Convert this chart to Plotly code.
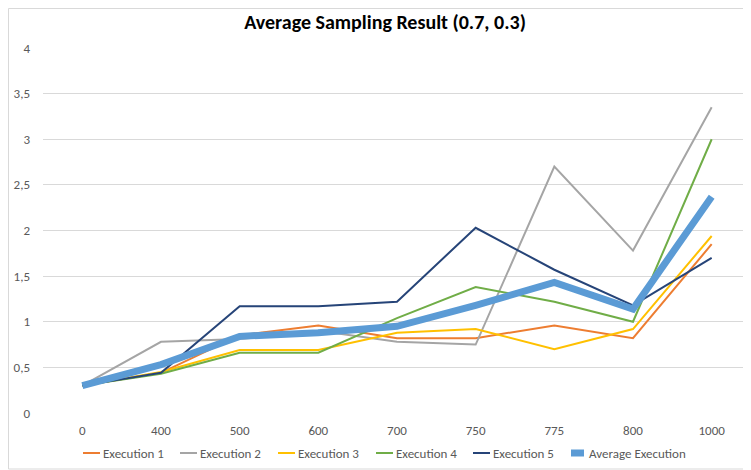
import plotly.graph_objects as go

# sample sizes (categories on the x axis)
sizes = ["0", "400", "500", "600", "700", "750", "775", "800", "1000"]

execution_1 = [0.30, 0.44, 0.85, 0.96, 0.82, 0.82, 0.96, 0.82, 1.85]
execution_2 = [0.30, 0.78, 0.81, 0.90, 0.78, 0.75, 2.70, 1.78, 3.35]
execution_3 = [0.30, 0.45, 0.69, 0.69, 0.88, 0.92, 0.70, 0.92, 1.94]
execution_4 = [0.30, 0.43, 0.66, 0.66, 1.04, 1.38, 1.22, 1.00, 3.00]
execution_5 = [0.30, 0.44, 1.17, 1.17, 1.22, 2.03, 1.57, 1.18, 1.70]
average_execution = [0.30, 0.53, 0.84, 0.88, 0.95, 1.18, 1.43, 1.14, 2.37]

series = [
    ("Execution 1", execution_1, "#ED7D31", 2),
    ("Execution 2", execution_2, "#A5A5A5", 2),
    ("Execution 3", execution_3, "#FFC000", 2),
    ("Execution 4", execution_4, "#70AD47", 2),
    ("Execution 5", execution_5, "#264478", 2),
    ("Average Execution", average_execution, "#5B9BD5", 7),
]

# where each legend label starts (page px)
legend_text_x = [102, 199, 297, 395, 492, 588]
LEGEND_Y = 453

FONT = "Carlito, Lato, 'Open Sans', sans-serif"

# the page puts the figure 8px in from the top-left corner
W, H = 743, 462
L, R, T, B = 35, 0, 40, 57
plot_w = W - L - R
plot_h = H - T - B


def px_x(page_x):
    return (page_x - 8 - L) / plot_w


def px_y(page_y):
    return (T + plot_h - (page_y - 8)) / plot_h


fig = go.Figure()

shapes = [dict(
    type="rect",
    xref="paper",
    yref="paper",
    x0=px_x(8.5),
    x1=1.02,
    y0=px_y(469),
    y1=px_y(8.5),
    line=dict(color="#D9D9D9", width=1),
    fillcolor="rgba(0,0,0,0)",
    layer="below",
)]
annotations = []

for i, (name, values, color, width) in enumerate(series):
    fig.add_trace(go.Scatter(
        x=sizes,
        y=values,
        mode="lines",
        name=name,
        line=dict(color=color, width=width),
    ))
    # legend entry: short line + label
    tx = legend_text_x[i]
    shapes.append(dict(
        type="line",
        xref="paper",
        yref="paper",
        x0=px_x(tx - 19 + (2 if width > 2 else 0)),
        x1=px_x(tx - 2 - (2 if width > 2 else 0)),
        y0=px_y(LEGEND_Y),
        y1=px_y(LEGEND_Y),
        line=dict(color=color, width=width),
    ))
    annotations.append(dict(
        text=name,
        xref="paper",
        yref="paper",
        x=px_x(tx - 1),
        y=px_y(LEGEND_Y),
        xanchor="left",
        yanchor="middle",
        showarrow=False,
        font=dict(family=FONT, size=13, color="#595959"),
    ))

fig.update_layout(
    width=W,
    height=H,
    separators=", ",
    font=dict(family=FONT, size=13, color="#595959"),
    title=dict(
        text="<b>Average Sampling Result (0.7, 0.3)</b>",
        x=(385 - 8) / W,
        xanchor="center",
        y=1 - 14 / H,
        yanchor="middle",
        font=dict(family=FONT, size=20, color="#000000"),
    ),
    xaxis=dict(
        type="category",
        range=[-0.5, 8.5],
        showgrid=False,
        showline=False,
        zeroline=False,
        ticks="",
        ticklabelstandoff=8,
        automargin=False,
        tickfont=dict(size=13, color="#595959"),
        fixedrange=True,
    ),
    yaxis=dict(
        range=[0, 4],
        dtick=0.5,
        gridcolor="#D9D9D9",
        gridwidth=1,
        showline=False,
        zeroline=False,
        ticks="",
        ticklabelstandoff=12,
        automargin=False,
        tickfont=dict(size=13, color="#595959"),
        fixedrange=True,
    ),
    shapes=shapes,
    annotations=annotations,
    margin=dict(l=L, r=R, t=T, b=B, autoexpand=False),
    plot_bgcolor="white",
    paper_bgcolor="white",
    showlegend=False,
)

fig.write_html("out.html")
